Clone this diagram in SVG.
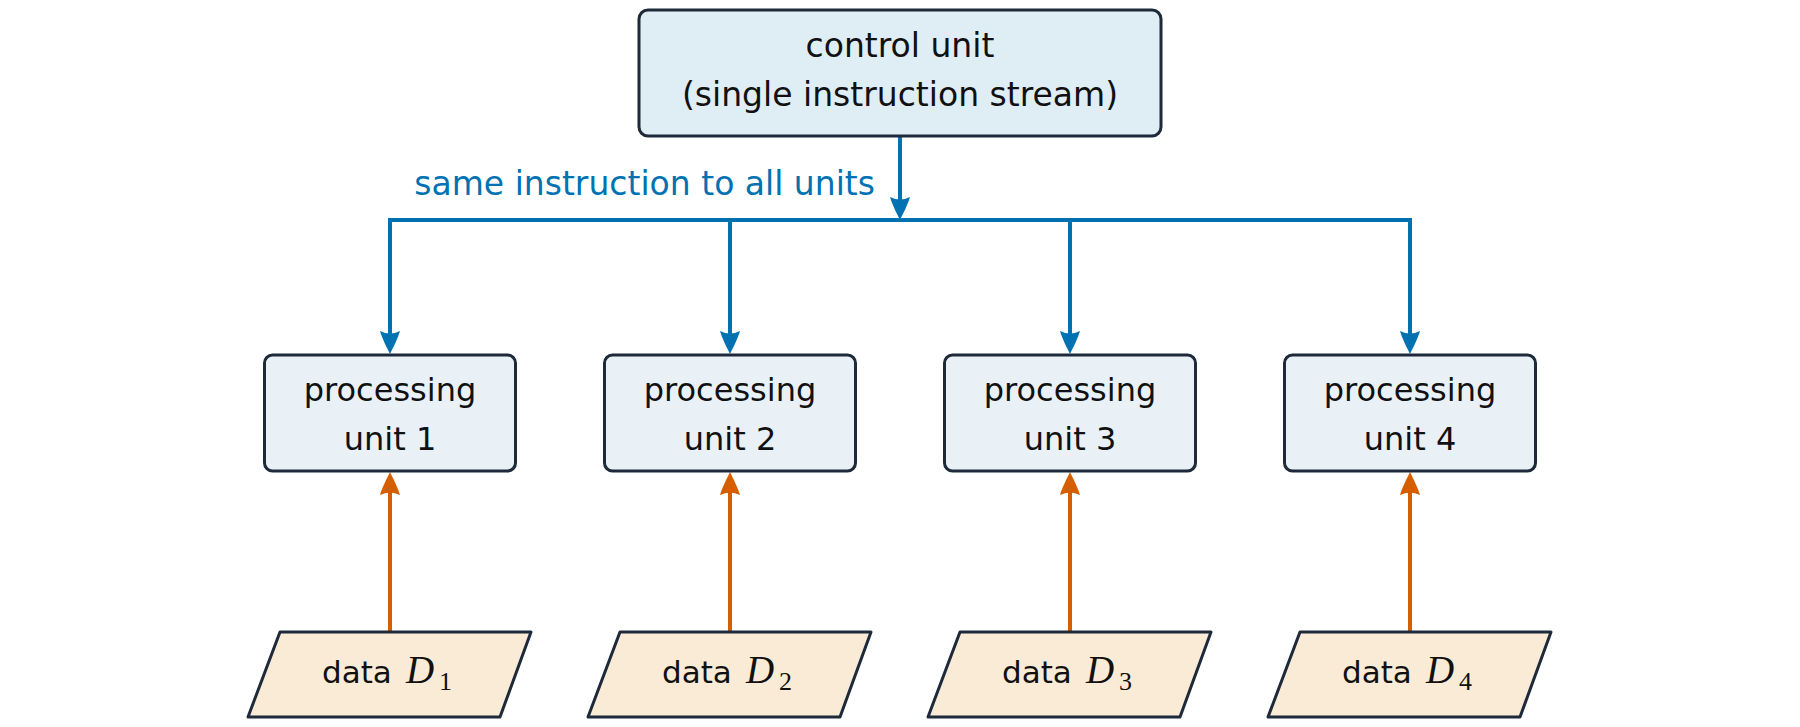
<svg xmlns="http://www.w3.org/2000/svg" width="1800" height="727" viewBox="0 0 1800 727">
  <style>
    .box { stroke: #1e2a3a; stroke-width: 3; }
    .ctrl { fill: #dfedf5; }
    .proc { fill: #e9f1f7; }
    .data { fill: #faebd6; stroke: #1e2a3a; stroke-width: 3; stroke-linejoin: round; }
    .t { font-family: "DejaVu Sans", "Liberation Sans", sans-serif; font-size: 32px; fill: #111; text-anchor: middle; }
    .ctl { font-size: 33px; }
    .dt { font-family: "DejaVu Sans", "Liberation Sans", sans-serif; font-size: 31px; fill: #111; }
    .mi { font-family: "Liberation Serif", serif; font-style: italic; font-size: 39px; fill: #111; }
    .sub { font-family: "Liberation Serif", serif; font-size: 26px; fill: #111; }
    .lbl { font-family: "DejaVu Sans", "Liberation Sans", sans-serif; font-size: 33px; fill: #0072b2; text-anchor: end; }
    .blue { stroke: #0072b2; stroke-width: 4; fill: none; }
    .orange { stroke: #d55e00; stroke-width: 4; fill: none; }
  </style>
  <defs>
    <marker id="ab" viewBox="-12 -11 26 22" markerWidth="26" markerHeight="22" refX="0" refY="0" orient="auto" markerUnits="userSpaceOnUse">
      <path d="M12,0 C6,-3 -4,-8 -11,-10 Q-6,0 -11,10 C-4,8 6,3 12,0 Z" fill="#0072b2"/>
    </marker>
    <marker id="ao" viewBox="-12 -11 26 22" markerWidth="26" markerHeight="22" refX="0" refY="0" orient="auto" markerUnits="userSpaceOnUse">
      <path d="M12,0 C6,-3 -4,-8 -11,-10 Q-6,0 -11,10 C-4,8 6,3 12,0 Z" fill="#d55e00"/>
    </marker>
  </defs>

  <g id="connectors">
    <path class="blue" d="M900,136 V208" marker-end="url(#ab)"/>
    <path class="blue" d="M390,220 H1410" stroke-linecap="square"/>
    <path class="blue" d="M390,220 V342" marker-end="url(#ab)"/>
    <path class="blue" d="M730,220 V342" marker-end="url(#ab)"/>
    <path class="blue" d="M1070,220 V342" marker-end="url(#ab)"/>
    <path class="blue" d="M1410,220 V342" marker-end="url(#ab)"/>
    <text class="lbl" x="875" y="195">same instruction to all units</text>
    <path class="orange" d="M390,632 V484" marker-end="url(#ao)"/>
    <path class="orange" d="M730,632 V484" marker-end="url(#ao)"/>
    <path class="orange" d="M1070,632 V484" marker-end="url(#ao)"/>
    <path class="orange" d="M1410,632 V484" marker-end="url(#ao)"/>
  </g>

  <g id="control">
    <rect class="box ctrl" x="639" y="10" width="522" height="126" rx="9"/>
    <text class="t ctl" x="900" y="57">control unit</text>
    <text class="t ctl" x="900" y="106">(single instruction stream)</text>
  </g>

  <g id="pu1">
    <rect class="box proc" x="264.5" y="355" width="251" height="116" rx="8"/>
    <text class="t" x="390" y="401">processing</text>
    <text class="t" x="390" y="450">unit 1</text>
  </g>
  <g id="pu2">
    <rect class="box proc" x="604.5" y="355" width="251" height="116" rx="8"/>
    <text class="t" x="730" y="401">processing</text>
    <text class="t" x="730" y="450">unit 2</text>
  </g>
  <g id="pu3">
    <rect class="box proc" x="944.5" y="355" width="251" height="116" rx="8"/>
    <text class="t" x="1070" y="401">processing</text>
    <text class="t" x="1070" y="450">unit 3</text>
  </g>
  <g id="pu4">
    <rect class="box proc" x="1284.5" y="355" width="251" height="116" rx="8"/>
    <text class="t" x="1410" y="401">processing</text>
    <text class="t" x="1410" y="450">unit 4</text>
  </g>

  <g id="d1">
    <polygon class="data" points="280,632 531,632 500,717 248,717"/>
    <text y="683"><tspan class="dt" x="322">data</tspan><tspan class="mi" x="406">D</tspan><tspan class="sub" x="439" y="690">1</tspan></text>
  </g>
  <g id="d2">
    <polygon class="data" points="620,632 871,632 840,717 588,717"/>
    <text y="683"><tspan class="dt" x="662">data</tspan><tspan class="mi" x="746">D</tspan><tspan class="sub" x="779" y="690">2</tspan></text>
  </g>
  <g id="d3">
    <polygon class="data" points="960,632 1211,632 1180,717 928,717"/>
    <text y="683"><tspan class="dt" x="1002">data</tspan><tspan class="mi" x="1086">D</tspan><tspan class="sub" x="1119" y="690">3</tspan></text>
  </g>
  <g id="d4">
    <polygon class="data" points="1300,632 1551,632 1520,717 1268,717"/>
    <text y="683"><tspan class="dt" x="1342">data</tspan><tspan class="mi" x="1426">D</tspan><tspan class="sub" x="1459" y="690">4</tspan></text>
  </g>
</svg>
